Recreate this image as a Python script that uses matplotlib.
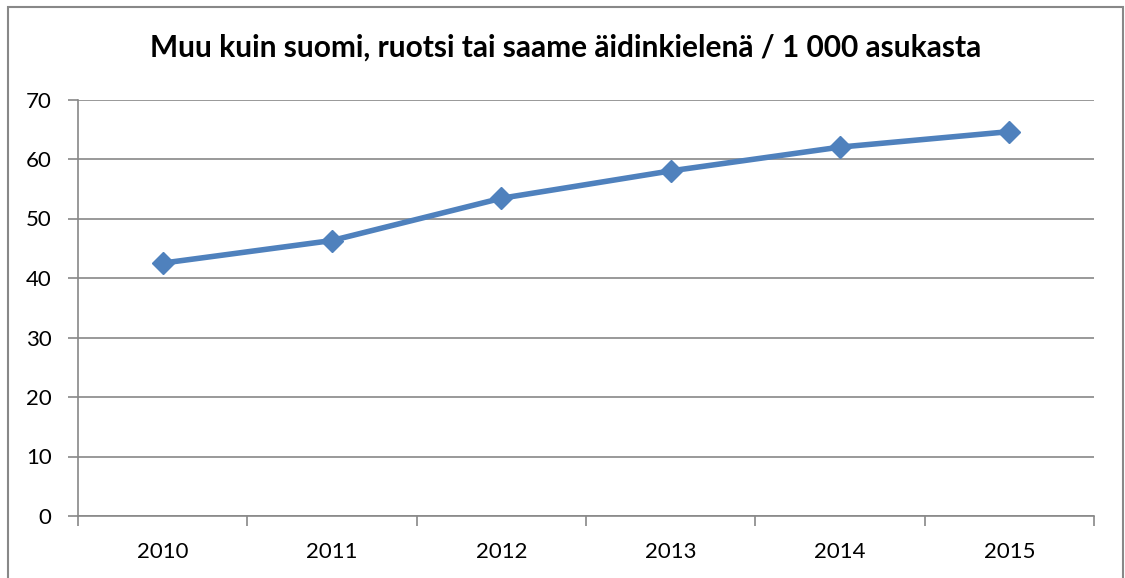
import matplotlib.pyplot as plt
from matplotlib.patches import Rectangle

years = ["2010", "2011", "2012", "2013", "2014", "2015"]
values = [42.5, 46.3, 53.4, 58.0, 62.0, 64.6]

plt.rcParams['font.family'] = ['Lato', 'DejaVu Sans']

fig = plt.figure(figsize=(11.25, 5.78), dpi=100)
ax = fig.add_axes([78 / 1125, 62 / 578, 1016 / 1125, 416.5 / 578])

# outer chart frame
fig.patches.append(Rectangle((8 / 1125, -0.05), 1115 / 1125, (571 / 578) + 0.05,
                             transform=fig.transFigure, fill=False,
                             edgecolor="#888888", linewidth=1.5))

x = list(range(len(years)))
ax.plot(x, values, color="#4F81BD", linewidth=4, marker="D", markersize=11,
        solid_capstyle="round", zorder=3)

ax.set_xlim(-0.5, len(years) - 0.5)
ax.set_ylim(0, 70)
ax.set_yticks(range(0, 71, 10))
ax.set_xticks([i - 0.5 for i in range(len(years) + 1)])
ax.set_xticklabels([])
ax.set_xticks(x, minor=True)
ax.set_xticklabels(years, minor=True)
ax.tick_params(axis="x", which="minor", length=0, pad=19, labelsize=16)
ax.tick_params(axis="x", which="major", length=7, width=1.2, color="#888888")
ax.tick_params(axis="y", length=7, width=1.2, color="#888888", labelsize=16, pad=12)

ax.grid(axis="y", color="#888888", linewidth=1.2)
ax.set_axisbelow(True)
for s in ["top", "right"]:
    ax.spines[s].set_visible(False)
for s in ["left", "bottom"]:
    ax.spines[s].set_color("#888888")
    ax.spines[s].set_linewidth(1.2)

fig.text(0.503, 0.918, "Muu kuin suomi, ruotsi tai saame äidinkielenä / 1 000 asukasta",
         ha="center", va="center", fontsize=21.5, fontweight="bold")

fig.savefig("out.png", dpi=100)
